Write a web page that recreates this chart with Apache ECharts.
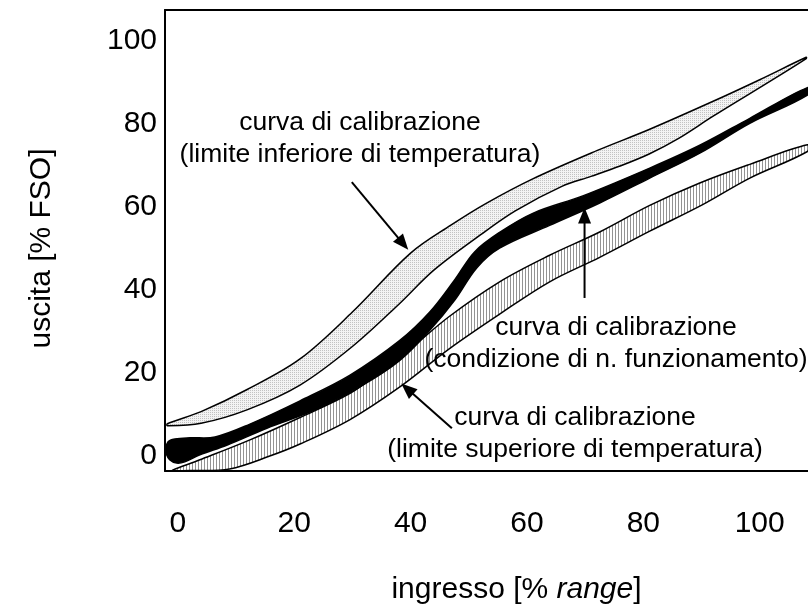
<!DOCTYPE html>
<html>
<head>
<meta charset="utf-8">
<script src="https://cdn.jsdelivr.net/npm/echarts@6/dist/echarts.min.js"></script>
<style>
  html, body { margin: 0; padding: 0; background: #fff; }
  #chart { width: 808px; height: 606px; }
</style>
</head>
<body>
<div id="chart"></div>
<script>
// Axis tick values
const xTicks = [0, 20, 40, 60, 80, 100];
const yTicks = [0, 20, 40, 60, 80, 100];

// Calibration band at the lower temperature limit: [input %, output %FSO]
const coldUpper = [[-1.8, 7.8], [4, 10.7], [12, 16.1], [21, 23.4], [30, 34.7], [40, 48.9], [47, 55.7], [53, 60.9], [61, 66.8], [72, 73.6], [81, 78.7], [92, 85.5], [100, 90.7], [108, 96.1]];
const coldLower = [[-1.8, 7.3], [4, 7.9], [12, 11.2], [21, 17.1], [30, 26.4], [38, 36.6], [44, 44.8], [52, 53.3], [58, 59.1], [66, 65.0], [71, 67.4], [76, 69.9], [81, 72.8], [86, 76.5], [92, 81.9], [100, 88.8], [108, 95.8]];

// Calibration band at normal operating conditions
const nominalUpper = [[-2.1, 1.4], [-1.7, 3.4], [-0.5, 4.1], [2.1, 4.4], [6.4, 4.6], [12.4, 7.7], [21.0, 13.3], [29.6, 19.5], [38.1, 27.8], [43.3, 34.7], [47.6, 42.5], [51.0, 49.2], [55.3, 53.9], [61.0, 58.5], [69.6, 62.7], [81.1, 69.4], [89.7, 74.9], [98.3, 81.4], [108.2, 88.8]];
const nominalLower = [[-2.1, 0.9], [-1.4, -0.9], [-0.2, -1.7], [1.2, -1.4], [3.8, 0.3], [8.4, 2.6], [15.3, 6.7], [23.9, 11.3], [31.8, 17.1], [38.1, 23.0], [43.3, 30.3], [47.6, 37.6], [51.4, 45.4], [55.3, 50.1], [63.9, 55.6], [72.5, 61.0], [81.1, 67.0], [89.7, 73.0], [98.3, 80.2], [108.2, 87.0]];

// Calibration band at the upper temperature limit
const hotUpper = [[-0.9, -3.4], [3.8, -0.9], [12.4, 3.9], [21.0, 9.3], [29.6, 15.1], [35, 20.5], [40, 25.9], [46.7, 33.7], [55.3, 42.0], [63.9, 48.4], [72.5, 54.0], [81.1, 60.4], [89.7, 65.8], [98.3, 70.3], [108.2, 75.0]];
const hotLower = [[-0.9, -3.5], [2.1, -3.5], [8.9, -3.1], [15.8, 0.0], [21.0, 2.9], [29.6, 8.8], [38.1, 16.6], [46.7, 25.9], [55.3, 34.2], [63.9, 42.0], [72.5, 47.9], [81.1, 54.2], [90.2, 60.6], [98.3, 67.0], [108.2, 73.4]];

// Pointer arrows: [tailX, tailY, headX, headY] in data units
const pointers = [
  [29.9, 66.0, 39.6, 49.7],
  [69.9, 38.1, 69.9, 59.9],
  [47.1, 6.7, 38.4, 17.5]
];

const FONT = '"Liberation Sans", Arial, Helvetica, sans-serif';

function makePattern(w, h, draw) {
  const c = document.createElement('canvas');
  c.width = w; c.height = h;
  draw(c.getContext('2d'));
  return c;
}
// fine grey stipple
const stipple = makePattern(2, 2, g => {
  g.fillStyle = '#f3f3f3'; g.fillRect(0, 0, 2, 2);
  g.fillStyle = '#c2c2c2'; g.fillRect(0, 0, 1, 1);
});
// vertical hatching
const hatch = makePattern(3, 1, g => {
  g.fillStyle = '#ffffff'; g.fillRect(0, 0, 3, 1);
  g.fillStyle = '#939393'; g.fillRect(0, 0, 1, 1);
});

function band(name, upper, lower, fill, z) {
  const outline = upper.concat(lower.slice().reverse());
  return {
    type: 'custom',
    name: name,
    data: outline,
    clip: true,
    z: z,
    silent: true,
    renderItem: function (params, api) {
      if (params.dataIndex !== 0) return null;
      const pts = outline.map(p => api.coord(p));
      return {
        type: 'polygon',
        shape: { points: pts, smooth: 0.35 },
        style: { fill: fill, stroke: '#000', lineWidth: 1.5 }
      };
    }
  };
}

const pointerSeries = {
  type: 'custom',
  name: 'frecce',
  data: pointers,
  encode: { x: [0, 2], y: [1, 3] },
  clip: false,
  z: 6,
  silent: true,
  renderItem: function (params, api) {
    const a = api.coord([api.value(0), api.value(1)]);
    const b = api.coord([api.value(2), api.value(3)]);
    const dx = b[0] - a[0], dy = b[1] - a[1];
    const len = Math.hypot(dx, dy);
    const ux = dx / len, uy = dy / len;
    const L = 16, W = 6.5;
    const base = [b[0] - ux * L, b[1] - uy * L];
    return {
      type: 'group',
      children: [
        { type: 'line', shape: { x1: a[0], y1: a[1], x2: base[0] + ux * 2, y2: base[1] + uy * 2 }, style: { stroke: '#000', lineWidth: 2 } },
        { type: 'polygon', shape: { points: [b, [base[0] - uy * W, base[1] + ux * W], [base[0] + uy * W, base[1] - ux * W]] }, style: { fill: '#000' } }
      ]
    };
  }
};

const chart = echarts.init(document.getElementById('chart'), null, { renderer: 'canvas' });

const frameLine = { show: true, onZero: false, lineStyle: { color: '#000', width: 2 } };
const X_MIN = -2.2, X_MAX = 108.3;

chart.setOption({
  animation: false,
  backgroundColor: '#fff',
  textStyle: { fontFamily: FONT },
  grid: { left: 165, top: 10, right: 0, height: 461, outerBoundsMode: 'none', containLabel: false },
  xAxis: [
    {
      type: 'value',
      position: 'bottom',
      min: X_MIN, max: X_MAX,
      axisLine: frameLine,
      axisTick: { show: false },
      splitLine: { show: false },
      axisLabel: { customValues: xTicks, fontSize: 30, color: '#000', margin: 38, fontFamily: FONT },
      name: '{a|ingresso [% }{b|range}{a|]}',
      nameLocation: 'middle',
      nameGap: 104,
      nameTextStyle: {
        padding: [0, 0, 0, 60],
        rich: {
          a: { fontSize: 30, color: '#000', fontFamily: FONT },
          b: { fontSize: 30, color: '#000', fontFamily: FONT, fontStyle: 'italic' }
        }
      }
    },
    {
      type: 'value',
      position: 'top',
      min: X_MIN, max: X_MAX,
      axisLine: frameLine,
      axisTick: { show: false },
      splitLine: { show: false },
      axisLabel: { show: false }
    }
  ],
  yAxis: {
    type: 'value',
    min: -3.6, max: 107.5,
    axisLine: frameLine,
    axisTick: { show: false },
    splitLine: { show: false },
    axisLabel: { customValues: yTicks, fontSize: 30, color: '#000', margin: 8, fontFamily: FONT },
    name: 'uscita [% FSO]',
    nameLocation: 'middle',
    nameRotate: 90,
    nameGap: 108,
    nameTextStyle: { fontSize: 30, color: '#000', fontFamily: FONT, padding: [0, 16, 0, 0] }
  },
  graphic: [
    {
      type: 'text', x: 360, y: 139, z: 10,
      style: { text: 'curva di calibrazione\n(limite inferiore di temperatura)', font: '26.5px ' + FONT, fill: '#000', align: 'center', verticalAlign: 'middle', lineHeight: 32 }
    },
    {
      type: 'text', x: 616, y: 344, z: 10,
      style: { text: 'curva di calibrazione\n(condizione di n. funzionamento)', font: '26.5px ' + FONT, fill: '#000', align: 'center', verticalAlign: 'middle', lineHeight: 32 }
    },
    {
      type: 'text', x: 575, y: 434, z: 10,
      style: { text: 'curva di calibrazione\n(limite superiore di temperatura)', font: '26.5px ' + FONT, fill: '#000', align: 'center', verticalAlign: 'middle', lineHeight: 32 }
    }
  ],
  series: [
    band('limite superiore', hotUpper, hotLower, { image: hatch, repeat: 'repeat' }, 2),
    band('limite inferiore', coldUpper, coldLower, { image: stipple, repeat: 'repeat' }, 3),
    band('condizione nominale', nominalUpper, nominalLower, '#000', 4),
    pointerSeries
  ]
});
</script>
</body>
</html>
